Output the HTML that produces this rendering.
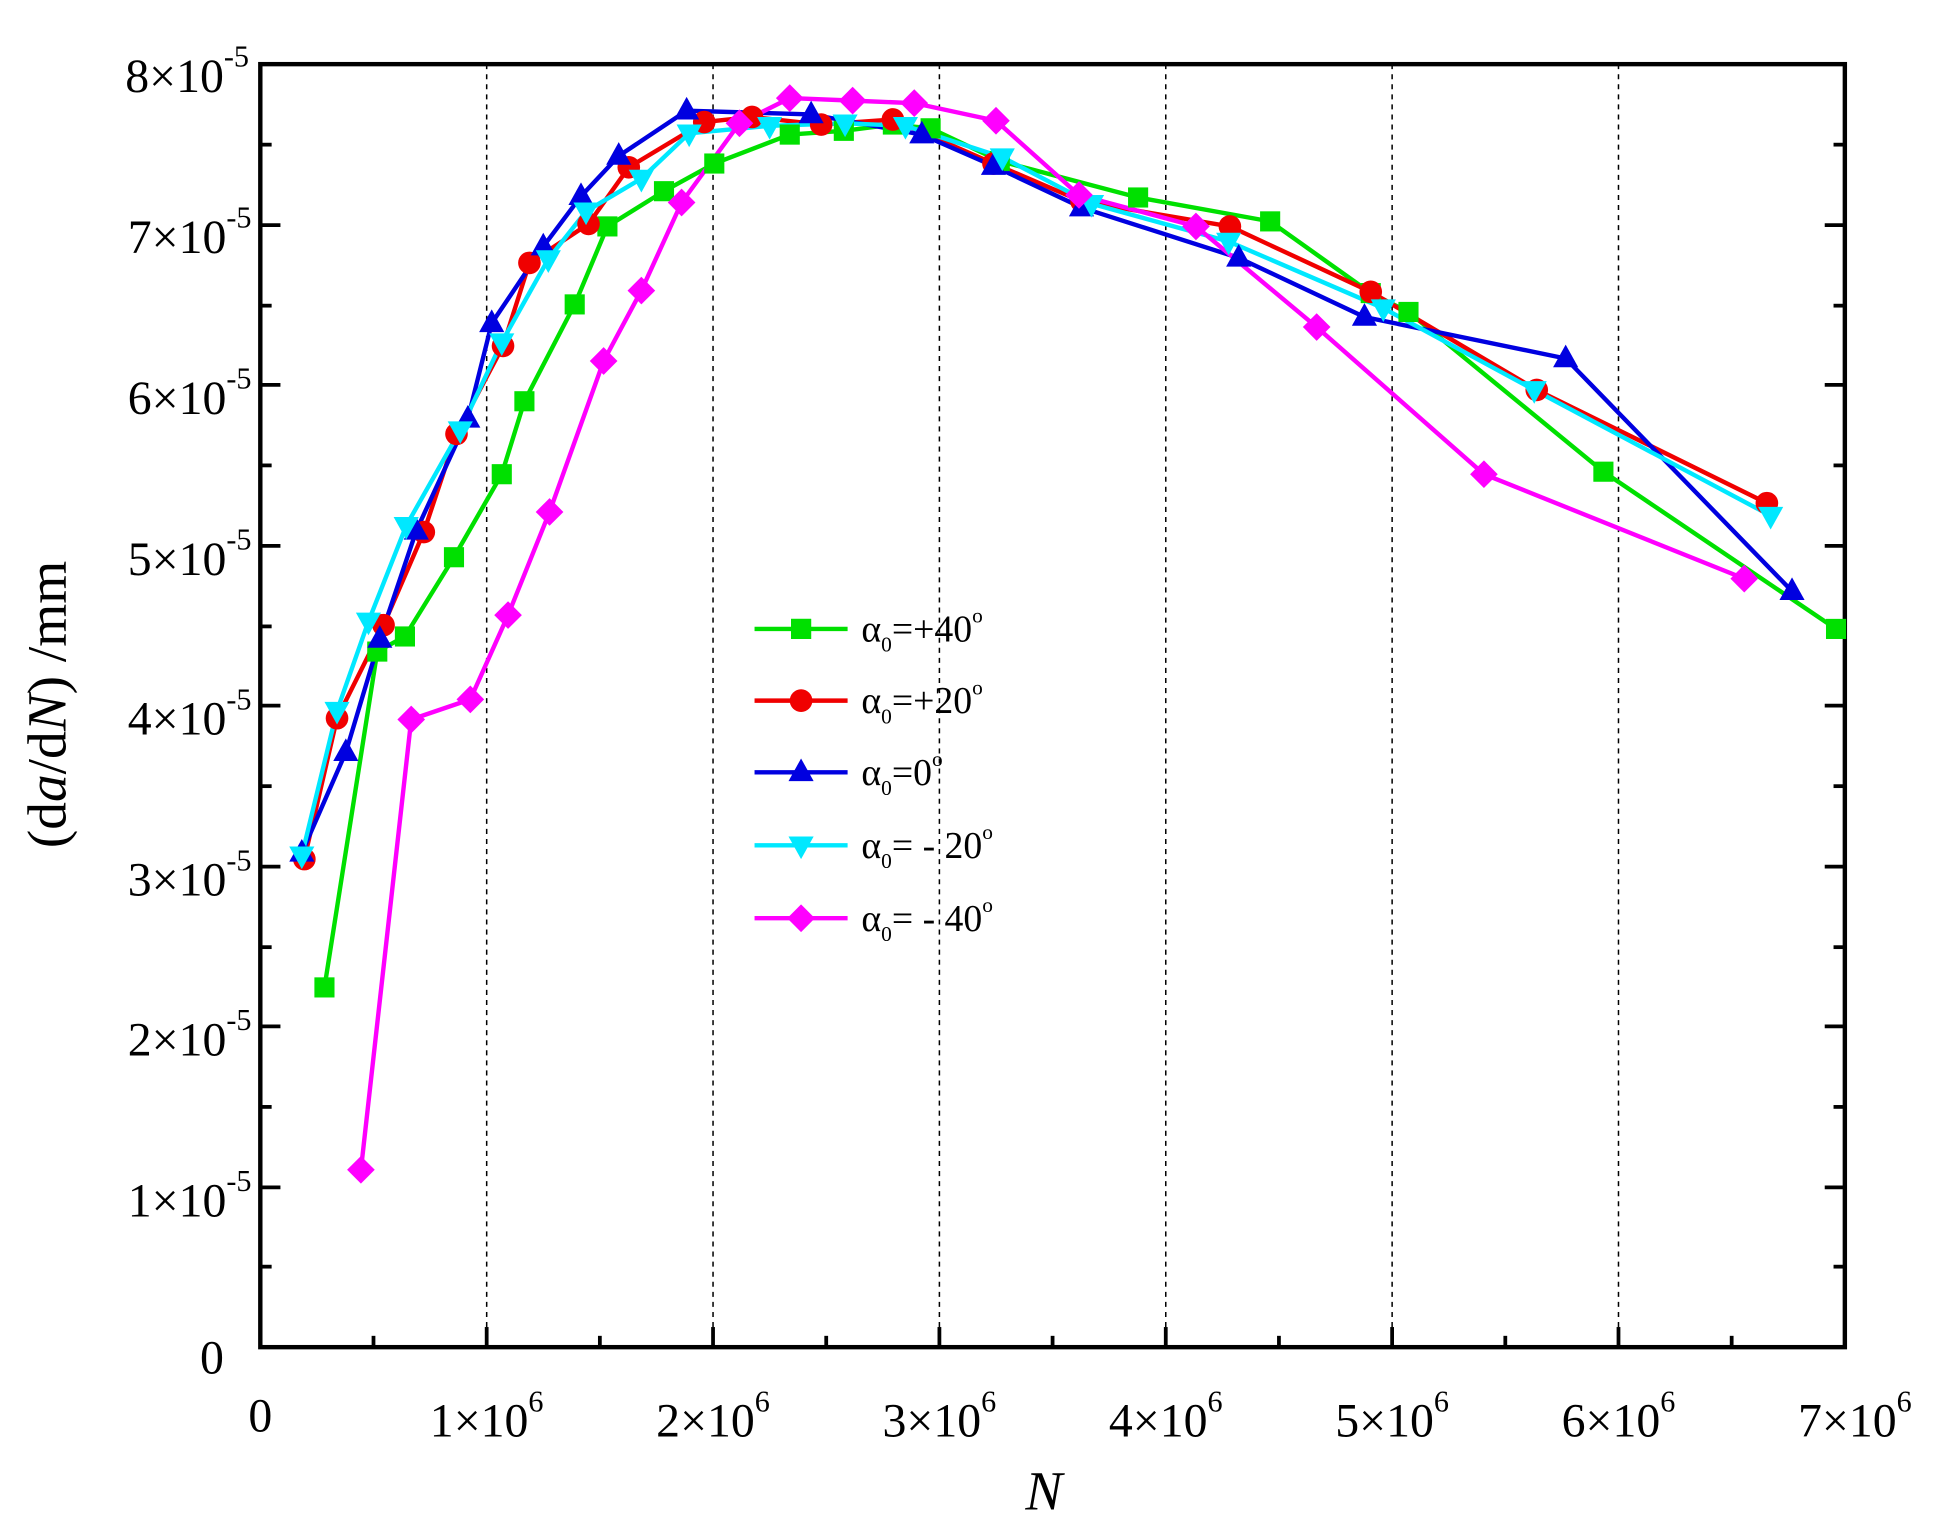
<!DOCTYPE html>
<html><head><meta charset="utf-8"><style>html,body{margin:0;padding:0;background:#fff}svg{display:block}text{font-family:"Liberation Serif",serif}</style></head><body>
<svg width="1953" height="1522" viewBox="0 0 1553 1210" preserveAspectRatio="none" xmlns="http://www.w3.org/2000/svg" xmlns:xlink="http://www.w3.org/1999/xlink">
<g stroke="#000" stroke-width="1.2" stroke-dasharray="4,4">
<line x1="387" y1="51" x2="387" y2="1071"/><line x1="567" y1="51" x2="567" y2="1071"/><line x1="747" y1="51" x2="747" y2="1071"/><line x1="927" y1="51" x2="927" y2="1071"/><line x1="1107" y1="51" x2="1107" y2="1071"/><line x1="1287" y1="51" x2="1287" y2="1071"/>
</g>
<g stroke="#000" stroke-width="3">
<line x1="297" y1="1071" x2="297" y2="1062"/><line x1="387" y1="1071" x2="387" y2="1055"/><line x1="477" y1="1071" x2="477" y2="1062"/><line x1="567" y1="1071" x2="567" y2="1055"/><line x1="657" y1="1071" x2="657" y2="1062"/><line x1="747" y1="1071" x2="747" y2="1055"/><line x1="837" y1="1071" x2="837" y2="1062"/><line x1="927" y1="1071" x2="927" y2="1055"/><line x1="1017" y1="1071" x2="1017" y2="1062"/><line x1="1107" y1="1071" x2="1107" y2="1055"/><line x1="1197" y1="1071" x2="1197" y2="1062"/><line x1="1287" y1="1071" x2="1287" y2="1055"/><line x1="1377" y1="1071" x2="1377" y2="1062"/>
<line x1="207" y1="1007" x2="216" y2="1007"/><line x1="207" y1="944" x2="223" y2="944"/><line x1="207" y1="880" x2="216" y2="880"/><line x1="207" y1="816" x2="223" y2="816"/><line x1="207" y1="753" x2="216" y2="753"/><line x1="207" y1="689" x2="223" y2="689"/><line x1="207" y1="625" x2="216" y2="625"/><line x1="207" y1="561" x2="223" y2="561"/><line x1="207" y1="498" x2="216" y2="498"/><line x1="207" y1="434" x2="223" y2="434"/><line x1="207" y1="370" x2="216" y2="370"/><line x1="207" y1="306" x2="223" y2="306"/><line x1="207" y1="243" x2="216" y2="243"/><line x1="207" y1="179" x2="223" y2="179"/><line x1="207" y1="115" x2="216" y2="115"/>
<line x1="1467" y1="1007" x2="1458" y2="1007"/><line x1="1467" y1="944" x2="1451" y2="944"/><line x1="1467" y1="880" x2="1458" y2="880"/><line x1="1467" y1="816" x2="1451" y2="816"/><line x1="1467" y1="753" x2="1458" y2="753"/><line x1="1467" y1="689" x2="1451" y2="689"/><line x1="1467" y1="625" x2="1458" y2="625"/><line x1="1467" y1="561" x2="1451" y2="561"/><line x1="1467" y1="498" x2="1458" y2="498"/><line x1="1467" y1="434" x2="1451" y2="434"/><line x1="1467" y1="370" x2="1458" y2="370"/><line x1="1467" y1="306" x2="1451" y2="306"/><line x1="1467" y1="243" x2="1458" y2="243"/><line x1="1467" y1="179" x2="1451" y2="179"/><line x1="1467" y1="115" x2="1458" y2="115"/>
</g>
<rect x="207" y="51" width="1260" height="1020" fill="none" stroke="#000" stroke-width="3.5"/>
<g font-size="38" text-anchor="end">
<text x="178" y="1092">0</text>
<text x="200" y="967">1×10<tspan font-size="24" dy="-20">-5</tspan></text>
<text x="200" y="839">2×10<tspan font-size="24" dy="-20">-5</tspan></text>
<text x="200" y="712">3×10<tspan font-size="24" dy="-20">-5</tspan></text>
<text x="200" y="584">4×10<tspan font-size="24" dy="-20">-5</tspan></text>
<text x="200" y="457">5×10<tspan font-size="24" dy="-20">-5</tspan></text>
<text x="200" y="329">6×10<tspan font-size="24" dy="-20">-5</tspan></text>
<text x="200" y="201">7×10<tspan font-size="24" dy="-20">-5</tspan></text>
<text x="198" y="73">8×10<tspan font-size="24" dy="-20">-5</tspan></text>
</g>
<g font-size="38" text-anchor="middle">
<text x="207" y="1138">0</text>
<text x="387" y="1142">1×10<tspan font-size="24" dy="-20">6</tspan></text>
<text x="567" y="1142">2×10<tspan font-size="24" dy="-20">6</tspan></text>
<text x="747" y="1142">3×10<tspan font-size="24" dy="-20">6</tspan></text>
<text x="927" y="1142">4×10<tspan font-size="24" dy="-20">6</tspan></text>
<text x="1107" y="1142">5×10<tspan font-size="24" dy="-20">6</tspan></text>
<text x="1287" y="1142">6×10<tspan font-size="24" dy="-20">6</tspan></text>
<text x="1475" y="1142">7×10<tspan font-size="24" dy="-20">6</tspan></text>
<text x="830" y="1200" font-size="44" font-style="italic">N</text>
</g>
<text transform="translate(52,560) rotate(-90)" font-size="44" text-anchor="middle">(d<tspan font-style="italic">a</tspan>/d<tspan font-style="italic">N</tspan>) /mm</text>
<defs>
<rect id="sq" x="-8" y="-8" width="16" height="16" fill="#00e000"/>
<circle id="ci" r="9" fill="#f00000"/>
<polygon id="tu" points="0,-11 10,7 -10,7" fill="#0000e0"/>
<polygon id="td" points="0,11 10,-7 -10,-7" fill="#00e8ff"/>
<polygon id="di" points="0,-11 11,0 0,11 -11,0" fill="#ff00ff"/>
</defs>
<g fill="none" stroke-width="3.5" stroke-linejoin="round">
<polyline stroke="#00e000" points="258,785 300,518 322,506 361,443 399,377 417,319 457,242 483,180 528,152 568,130 628,107 671,104 710,99 740,102 795,128 905,157 1010,176 1090,233 1120,248 1275,375 1460,500"/>
<polyline stroke="#f00000" points="242,683 268,571 305,497 337,423 363,345 400,275 421,209 468,178 500,133 560,97 598,93 653,99 710,95 790,130 860,160 978,180 1090,232 1222,310 1405,400"/>
<polyline stroke="#0000e0" points="240,678 275,598 302,508 331,422 372,333 391,257 432,196 462,156 492,124 546,88 645,91 733,107 790,132 860,165 985,205 1085,252 1245,285 1425,470"/>
<polyline stroke="#00e8ff" points="240,680 268,565 293,494 323,418 366,342 399,272 436,206 466,168 510,142 548,106 612,100 672,98 720,100 797,125 868,162 977,192 1100,245 1220,310 1408,410"/>
<polyline stroke="#ff00ff" points="287,930 327,572 374,556 404,489 437,407 480,287 510,231 542,161 588,98 628,78 678,80 727,82 792,96 858,155 951,180 1047,260 1180,377 1387,460"/>
</g>
<g fill="#00e000">
<rect x="250" y="777" width="16" height="16"/><rect x="292" y="510" width="16" height="16"/><rect x="314" y="498" width="16" height="16"/><rect x="353" y="435" width="16" height="16"/><rect x="391" y="369" width="16" height="16"/><rect x="409" y="311" width="16" height="16"/><rect x="449" y="234" width="16" height="16"/><rect x="475" y="172" width="16" height="16"/><rect x="520" y="144" width="16" height="16"/><rect x="560" y="122" width="16" height="16"/><rect x="620" y="99" width="16" height="16"/><rect x="663" y="96" width="16" height="16"/><rect x="702" y="91" width="16" height="16"/><rect x="732" y="94" width="16" height="16"/><rect x="787" y="120" width="16" height="16"/><rect x="897" y="149" width="16" height="16"/><rect x="1002" y="168" width="16" height="16"/><rect x="1082" y="225" width="16" height="16"/><rect x="1112" y="240" width="16" height="16"/><rect x="1267" y="367" width="16" height="16"/><rect x="1452" y="492" width="16" height="16"/><rect x="629" y="492" width="16" height="16"/>
</g>
<g fill="#f00000">
<circle cx="242" cy="683" r="9"/><circle cx="268" cy="571" r="9"/><circle cx="305" cy="497" r="9"/><circle cx="337" cy="423" r="9"/><circle cx="363" cy="345" r="9"/><circle cx="400" cy="275" r="9"/><circle cx="421" cy="209" r="9"/><circle cx="468" cy="178" r="9"/><circle cx="500" cy="133" r="9"/><circle cx="560" cy="97" r="9"/><circle cx="598" cy="93" r="9"/><circle cx="653" cy="99" r="9"/><circle cx="710" cy="95" r="9"/><circle cx="790" cy="130" r="9"/><circle cx="860" cy="160" r="9"/><circle cx="978" cy="180" r="9"/><circle cx="1090" cy="232" r="9"/><circle cx="1222" cy="310" r="9"/><circle cx="1405" cy="400" r="9"/><circle cx="637" cy="557" r="9"/>
</g>
<g>
<use xlink:href="#tu" href="#tu" x="240" y="678"/><use xlink:href="#tu" href="#tu" x="275" y="598"/><use xlink:href="#tu" href="#tu" x="302" y="508"/><use xlink:href="#tu" href="#tu" x="331" y="422"/><use xlink:href="#tu" href="#tu" x="372" y="333"/><use xlink:href="#tu" href="#tu" x="391" y="257"/><use xlink:href="#tu" href="#tu" x="432" y="196"/><use xlink:href="#tu" href="#tu" x="462" y="156"/><use xlink:href="#tu" href="#tu" x="492" y="124"/><use xlink:href="#tu" href="#tu" x="546" y="88"/><use xlink:href="#tu" href="#tu" x="645" y="91"/><use xlink:href="#tu" href="#tu" x="733" y="107"/><use xlink:href="#tu" href="#tu" x="790" y="132"/><use xlink:href="#tu" href="#tu" x="860" y="165"/><use xlink:href="#tu" href="#tu" x="985" y="205"/><use xlink:href="#tu" href="#tu" x="1085" y="252"/><use xlink:href="#tu" href="#tu" x="1245" y="285"/><use xlink:href="#tu" href="#tu" x="1425" y="470"/><use xlink:href="#tu" href="#tu" x="637" y="614"/>
<use xlink:href="#td" href="#td" x="240" y="680"/><use xlink:href="#td" href="#td" x="268" y="565"/><use xlink:href="#td" href="#td" x="293" y="494"/><use xlink:href="#td" href="#td" x="323" y="418"/><use xlink:href="#td" href="#td" x="366" y="342"/><use xlink:href="#td" href="#td" x="399" y="272"/><use xlink:href="#td" href="#td" x="436" y="206"/><use xlink:href="#td" href="#td" x="466" y="168"/><use xlink:href="#td" href="#td" x="510" y="142"/><use xlink:href="#td" href="#td" x="548" y="106"/><use xlink:href="#td" href="#td" x="612" y="100"/><use xlink:href="#td" href="#td" x="672" y="98"/><use xlink:href="#td" href="#td" x="720" y="100"/><use xlink:href="#td" href="#td" x="797" y="125"/><use xlink:href="#td" href="#td" x="868" y="162"/><use xlink:href="#td" href="#td" x="977" y="192"/><use xlink:href="#td" href="#td" x="1100" y="245"/><use xlink:href="#td" href="#td" x="1220" y="310"/><use xlink:href="#td" href="#td" x="1408" y="410"/><use xlink:href="#td" href="#td" x="637" y="672"/>
<use xlink:href="#di" href="#di" x="287" y="930"/><use xlink:href="#di" href="#di" x="327" y="572"/><use xlink:href="#di" href="#di" x="374" y="556"/><use xlink:href="#di" href="#di" x="404" y="489"/><use xlink:href="#di" href="#di" x="437" y="407"/><use xlink:href="#di" href="#di" x="480" y="287"/><use xlink:href="#di" href="#di" x="510" y="231"/><use xlink:href="#di" href="#di" x="542" y="161"/><use xlink:href="#di" href="#di" x="588" y="98"/><use xlink:href="#di" href="#di" x="628" y="78"/><use xlink:href="#di" href="#di" x="678" y="80"/><use xlink:href="#di" href="#di" x="727" y="82"/><use xlink:href="#di" href="#di" x="792" y="96"/><use xlink:href="#di" href="#di" x="858" y="155"/><use xlink:href="#di" href="#di" x="951" y="180"/><use xlink:href="#di" href="#di" x="1047" y="260"/><use xlink:href="#di" href="#di" x="1180" y="377"/><use xlink:href="#di" href="#di" x="1387" y="460"/><use xlink:href="#di" href="#di" x="637" y="730"/>
</g>
<g stroke-width="3.5">
<line x1="600" y1="500" x2="674" y2="500" stroke="#00e000"/>
<line x1="600" y1="557" x2="674" y2="557" stroke="#f00000"/>
<line x1="600" y1="614" x2="674" y2="614" stroke="#0000e0"/>
<line x1="600" y1="672" x2="674" y2="672" stroke="#00e8ff"/>
<line x1="600" y1="730" x2="674" y2="730" stroke="#ff00ff"/>
</g>
<use xlink:href="#sq" href="#sq" x="637" y="500"/>
<g font-size="30">
<text x="685" y="510">α<tspan font-size="17" dy="8">0</tspan><tspan dy="-8">=+40</tspan><tspan font-size="17" dy="-15">o</tspan></text>
<text x="685" y="567">α<tspan font-size="17" dy="8">0</tspan><tspan dy="-8">=+20</tspan><tspan font-size="17" dy="-15">o</tspan></text>
<text x="685" y="624">α<tspan font-size="17" dy="8">0</tspan><tspan dy="-8">=0</tspan><tspan font-size="17" dy="-15">o</tspan></text>
<text x="685" y="682">α<tspan font-size="17" dy="8">0</tspan><tspan dy="-8">= - 20</tspan><tspan font-size="17" dy="-15">o</tspan></text>
<text x="685" y="740">α<tspan font-size="17" dy="8">0</tspan><tspan dy="-8">= - 40</tspan><tspan font-size="17" dy="-15">o</tspan></text>
</g>
</svg>
</body></html>
